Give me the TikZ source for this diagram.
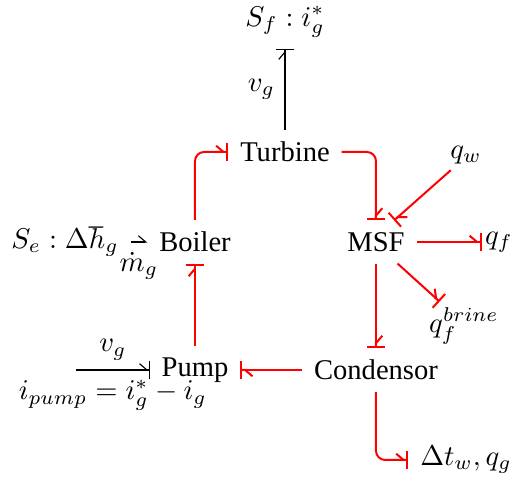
\documentclass[tikz,border=0pt]{standalone}
\usepackage{fontspec}
\setmainfont{Liberation Serif}
\usetikzlibrary{arrows.meta}
\begin{document}
\begin{tikzpicture}[x=0.35pt,y=-0.35pt,
  comp/.style={inner sep=4pt},
  lbl/.style={inner sep=2pt},
  bondtip/.style={-{Straight Barb[left,length=2.6pt,width=4.4pt,sep=0pt]Bar[width=6.5pt]}},
  rbond/.style={draw=red, line width=0.7pt, bondtip, rounded corners=3.2pt},
  kbond/.style={draw=black, line width=0.4pt, bondtip},
  harp/.style={draw=black, line width=0.4pt, -{Straight Barb[left,length=2.6pt,width=4.4pt]}},
]
\useasboundingbox (0,0) rectangle (518,481);
% components
\node[comp] (turbine) at (285,152) {Turbine};
\node[comp] (boiler) at (195,242) {Boiler};
\node[comp] (msf) at (376,242) {MSF};
\node[comp] (pump) at (195,370) {Pump};
\node[comp] (cond) at (376,370) {Condensor};
% sources / labels
\node[inner sep=4pt] (sf) at (285,22) {$S_f : i_g^*$};
\node[comp] (se) at (65,242) {$S_e : \Delta\hbar_g$};
\node[lbl] (qw) at (466,155) {$q_w$};
\node[inner sep=1pt] (qf) at (499,242) {$q_f$};
\node[lbl] (qfb) at (464,326) {$q_f^{brine}$};
\node[comp] (dt) at (466,460) {$\Delta t_w, q_g$};
\coordinate (pin) at (76,370);
% black bonds
\draw[kbond] (turbine.north) -- (sf.south) node[midway,left] (vg1) {$v_g$};
\draw[harp] (se.east) -- (boiler.west) node[midway,below] (mg) {$\dot m_g$};
\draw[kbond] (pin) -- (pump.west)
  node[midway,above] (vg2) {$v_g$}
  node[midway,below] (ip) {$i_{pump}=i_g^*-i_g$};
% red bonds
\draw[rbond] (boiler.north) |- (turbine.west);
\draw[rbond] (turbine.east) -| (msf.north);
\draw[rbond] (qw.225) -- (msf.50);
\draw[rbond] (msf.east) -- (qf.west);
\draw[rbond] (msf.-45) -- (qfb.135);
\draw[rbond] (msf.south) -- (cond.north);
\draw[rbond] (cond.west) -- (pump.east);
\draw[rbond] (pump.north) -- (boiler.south);
\draw[rbond] (cond.south) |- (dt.west);
\end{tikzpicture}
\end{document}
